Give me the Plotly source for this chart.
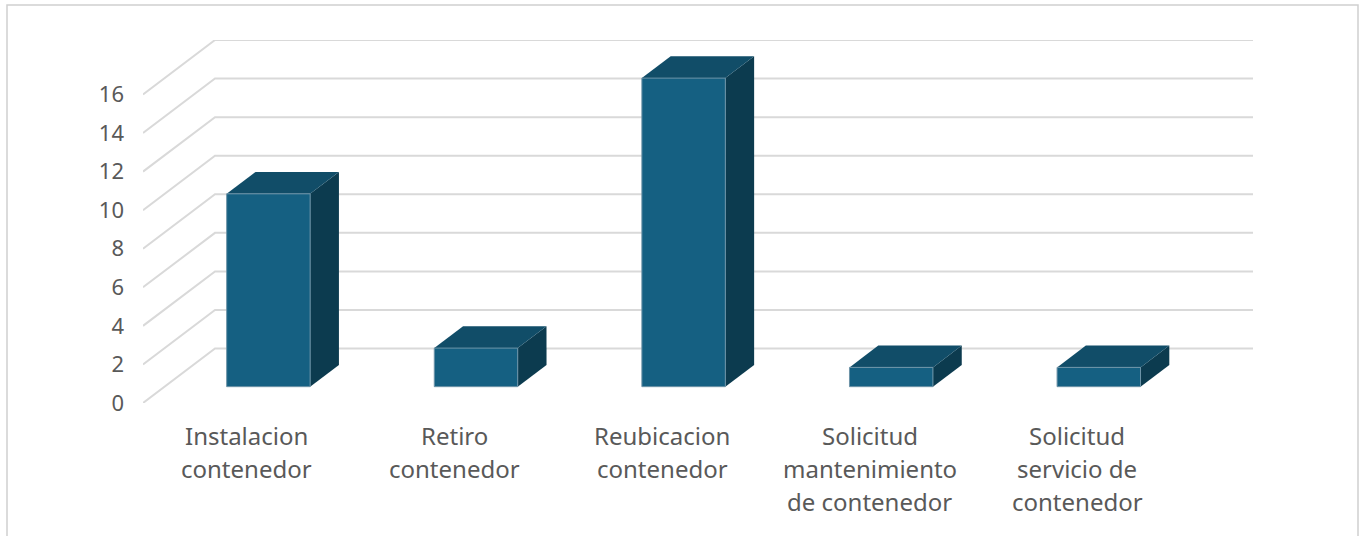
import plotly.graph_objects as go

# ---- data ----
categories = [
    ["Instalacion", "contenedor"],
    ["Retiro", "contenedor"],
    ["Reubicacion", "contenedor"],
    ["Solicitud", "mantenimiento", "de contenedor"],
    ["Solicitud", "servicio de", "contenedor"],
]
values = [10, 2, 16, 1, 1]
tick_values = [0, 2, 4, 6, 8, 10, 12, 14, 16]
tick_labels = ["0", "2", "4", "6", "8", "10", "12", "14", "16"]

# ---- styling / 3D projection constants ----
DX, DY = 0.3468, 2.823          # full depth offset (x in category units, y in value units)
D0, D1 = 0.30, 0.70             # bar depth span
HALF_W = 0.201                  # half bar width (category units)
FRONT = "#156082"
TOP = "#114D68"
SIDE = "#0C3B4F"
GRID = "#D9D9D9"
TEXT = "#595959"
FONT = "Noto Sans"

W, H = 1359, 536
ML, MR, MT, MB = 143, 106, 40, 133
n = len(values)
xmin, xmax = -0.5, n - 0.5 + DX
ymin, ymax = 0, max(tick_values) + DY
plot_h = H - MT - MB

fig = go.Figure()

# gridlines: back wall + left side wall diagonals
for v in tick_values:
    fig.add_trace(go.Scatter(
        x=[xmin, xmin + DX, xmax], y=[v, v + DY, v + DY],
        mode="lines", line=dict(color=GRID, width=2),
        hoverinfo="skip", showlegend=False))

# bars
for i, v in enumerate(values):
    xl, xr = i - HALF_W, i + HALF_W
    # side face
    fig.add_trace(go.Scatter(
        x=[xr + D0 * DX, xr + D1 * DX, xr + D1 * DX, xr + D0 * DX, xr + D0 * DX],
        y=[D0 * DY, D1 * DY, v + D1 * DY, v + D0 * DY, D0 * DY],
        mode="lines", fill="toself", fillcolor=SIDE, line=dict(width=0, color=SIDE),
        hoverinfo="skip", showlegend=False))
    # top face
    fig.add_trace(go.Scatter(
        x=[xl + D0 * DX, xr + D0 * DX, xr + D1 * DX, xl + D1 * DX, xl + D0 * DX],
        y=[v + D0 * DY, v + D0 * DY, v + D1 * DY, v + D1 * DY, v + D0 * DY],
        mode="lines", fill="toself", fillcolor=TOP, line=dict(width=0, color=TOP),
        hoverinfo="skip", showlegend=False))
    # front face
    fig.add_trace(go.Scatter(
        x=[xl + D0 * DX, xr + D0 * DX, xr + D0 * DX, xl + D0 * DX, xl + D0 * DX],
        y=[D0 * DY, D0 * DY, v + D0 * DY, v + D0 * DY, D0 * DY],
        mode="lines", fill="toself", fillcolor=FRONT,
        line=dict(width=1, color="#6E94A8"),
        hovertemplate=f"{' '.join(categories[i])}: {v}<extra></extra>", showlegend=False))

# category labels (one annotation per line for Excel-like line spacing)
line_px = [33, 65.5, 98]  # pixel offsets below the front floor edge
annotations = []
for i, lines in enumerate(categories):
    for k, txt in enumerate(lines):
        annotations.append(dict(
            x=i, y=-line_px[k] / plot_h, xref="x", yref="paper",
            text=txt, showarrow=False, xanchor="center", yanchor="middle",
            font=dict(family=FONT, size=24, color=TEXT)))

fig.update_layout(
    width=W, height=H,
    margin=dict(l=ML, r=MR, t=MT, b=MB),
    paper_bgcolor="white", plot_bgcolor="white",
    annotations=annotations,
    xaxis=dict(range=[xmin, xmax], visible=False, fixedrange=True),
    yaxis=dict(range=[ymin, ymax], showgrid=False, zeroline=False,
               tickvals=tick_values, ticktext=tick_labels, ticks="",
               ticklabelstandoff=18,
               tickfont=dict(family=FONT, size=22, color=TEXT),
               showline=False, fixedrange=True),
    shapes=[dict(type="rect", xref="paper", yref="paper",
                 x0=(7 - ML) / (W - ML - MR), x1=(1358 - ML) / (W - ML - MR),
                 y0=-0.5, y1=(H - MB - 5) / plot_h,
                 line=dict(color="#D0D0D0", width=1.5), layer="below")],
)

fig.write_html("out.html", config={"displayModeBar": False},
               post_script="document.body.style.margin='0';document.body.style.overflow='hidden';")
